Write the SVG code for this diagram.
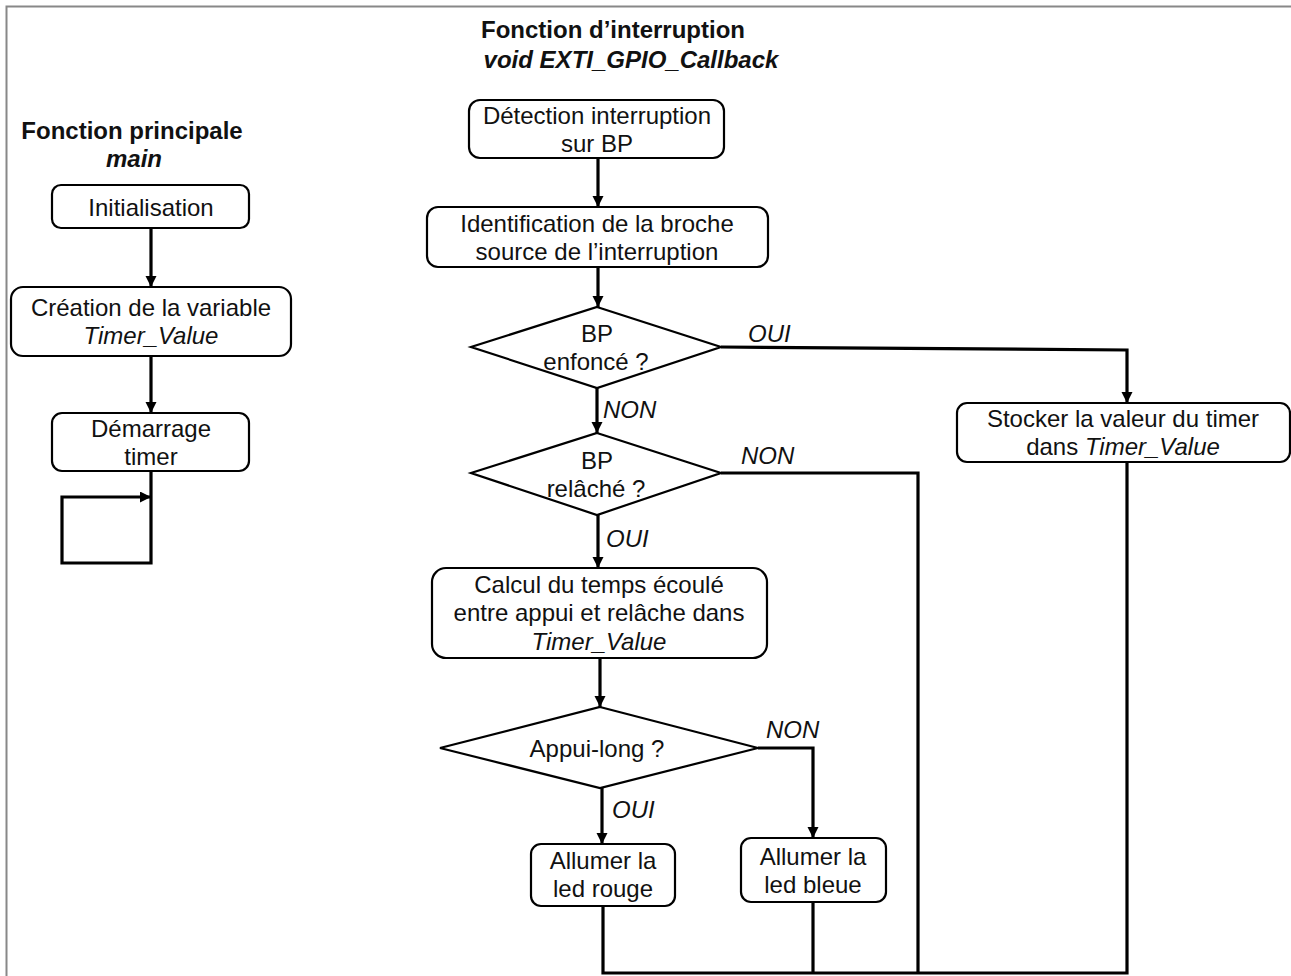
<svg xmlns="http://www.w3.org/2000/svg" width="1291" height="976" viewBox="0 0 1291 976">
<style>
text{font-family:"Liberation Sans",Arial,sans-serif;font-size:24px;fill:#111;text-anchor:middle}
.t{font-weight:bold}
.i{font-style:italic}
.l{text-anchor:start;font-style:italic}
.box{fill:#fff;stroke:#000;stroke-width:2.2}
.c{fill:none;stroke:#000;stroke-width:3.2}
</style>
<defs>
<marker id="ah" markerUnits="userSpaceOnUse" markerWidth="12" markerHeight="12" refX="11" refY="5.5" orient="auto">
<path d="M0,0 L11,5.5 L0,11 z" fill="#000"/>
</marker>
</defs>
<rect width="1291" height="976" fill="#fff"/>
<path d="M6.5,976 V6.5 H1291" fill="none" stroke="#888" stroke-width="2"/>

<g id="titles">
<text class="t" x="132" y="139">Fonction principale</text>
<text class="t i" x="134" y="167">main</text>
<text class="t" x="613" y="38">Fonction d’interruption</text>
<text class="t i" x="631" y="68">void EXTI_GPIO_Callback</text>
</g>

<g id="connectors">
<line class="c" x1="151" y1="228" x2="151" y2="287" marker-end="url(#ah)"/>
<line class="c" x1="151" y1="356" x2="151" y2="413" marker-end="url(#ah)"/>
<polyline class="c" points="151,471 151,563 62,563 62,497 151,497" marker-end="url(#ah)"/>
<line class="c" x1="598" y1="158" x2="598" y2="207" marker-end="url(#ah)"/>
<line class="c" x1="598" y1="267" x2="598" y2="307" marker-end="url(#ah)"/>
<line class="c" x1="597" y1="388" x2="597" y2="433" marker-end="url(#ah)"/>
<line class="c" x1="598" y1="515" x2="598" y2="568" marker-end="url(#ah)"/>
<line class="c" x1="600" y1="658" x2="600" y2="707" marker-end="url(#ah)"/>
<line class="c" x1="602" y1="788" x2="602" y2="844" marker-end="url(#ah)"/>
<polyline class="c" points="758,748 813,748 813,838" marker-end="url(#ah)"/>
<polyline class="c" points="721,347 1127,350 1127,403" marker-end="url(#ah)"/>
<polyline class="c" points="721,473 918,473 918,973"/>
<polyline class="c" points="1127,462 1127,973 603,973 603,906"/>
<line class="c" x1="813" y1="902" x2="813" y2="973"/>
<text class="l" x="748" y="342">OUI</text>
<text class="l" x="603" y="418">NON</text>
<text class="l" x="741" y="464">NON</text>
<text class="l" x="606" y="547">OUI</text>
<text class="l" x="766" y="738">NON</text>
<text class="l" x="612" y="818">OUI</text>
</g>

<g id="init">
<rect class="box" x="52" y="185" width="197" height="43" rx="9"/>
<text x="151" y="216">Initialisation</text>
</g>
<g id="creation">
<rect class="box" x="11" y="287" width="280" height="69" rx="12"/>
<text x="151" y="316">Création de la variable</text>
<text class="i" x="151" y="344">Timer_Value</text>
</g>
<g id="demarrage">
<rect class="box" x="52" y="413" width="197" height="58" rx="10"/>
<text x="151" y="437">Démarrage</text>
<text x="151" y="465">timer</text>
</g>

<g id="detection">
<rect class="box" x="469" y="100" width="255" height="58" rx="11"/>
<text x="597" y="124">Détection interruption</text>
<text x="597" y="152">sur BP</text>
</g>
<g id="identification">
<rect class="box" x="427" y="207" width="341" height="60" rx="11"/>
<text x="597" y="232">Identification de la broche</text>
<text x="597" y="260">source de l’interruption</text>
</g>
<g id="bp-enfonce">
<polygon class="box" points="597,307 721,347 597,388 471,347"/>
<text x="597" y="342">BP</text>
<text x="596" y="370">enfoncé ?</text>
</g>
<g id="bp-relache">
<polygon class="box" points="597,433 721,473 597,515 471,473"/>
<text x="597" y="469">BP</text>
<text x="596" y="497">relâché ?</text>
</g>
<g id="calcul">
<rect class="box" x="432" y="568" width="335" height="90" rx="14"/>
<text x="599" y="593">Calcul du temps écoulé</text>
<text x="599" y="621">entre appui et relâche dans</text>
<text class="i" x="599" y="650">Timer_Value</text>
</g>
<g id="appui-long">
<polygon class="box" points="600,707 758,748 600,788 440,748"/>
<text x="597" y="757">Appui-long ?</text>
</g>
<g id="led-rouge">
<rect class="box" x="531" y="844" width="144" height="62" rx="10"/>
<text x="603" y="869">Allumer la</text>
<text x="603" y="897">led rouge</text>
</g>
<g id="led-bleue">
<rect class="box" x="741" y="838" width="145" height="64" rx="10"/>
<text x="813" y="865">Allumer la</text>
<text x="813" y="893">led bleue</text>
</g>
<g id="stocker">
<rect class="box" x="957" y="403" width="333" height="59" rx="10"/>
<text x="1123" y="427">Stocker la valeur du timer</text>
<text x="1123" y="455">dans <tspan class="i">Timer_Value</tspan></text>
</g>
</svg>
